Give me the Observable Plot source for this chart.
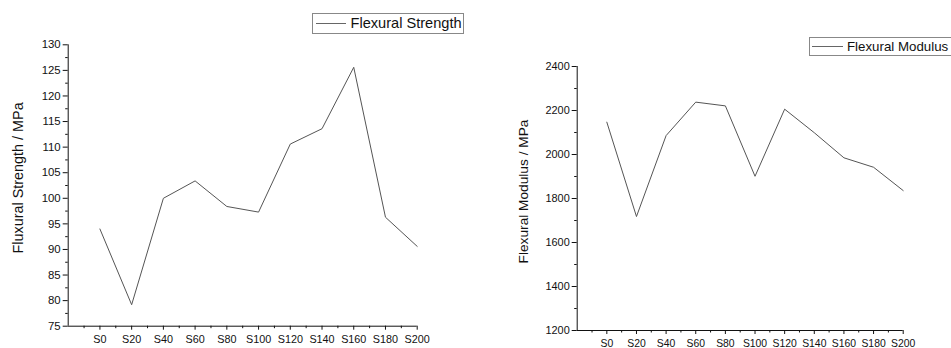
<!DOCTYPE html>
<html><head><meta charset="utf-8">
<script src="https://cdn.jsdelivr.net/npm/d3@7"></script>
<script src="https://cdn.jsdelivr.net/npm/@observablehq/plot@0.6"></script>
<style>
body{margin:0;background:#fff;font-family:"Liberation Sans",Arial,sans-serif;}
#wrap{position:relative;width:951px;height:348px;overflow:hidden;background:#fff;}
.chart{position:absolute;top:0;}
.legend{position:absolute;border:1px solid #888;background:#fff;color:#111;display:flex;align-items:center;box-sizing:border-box;white-space:nowrap;}
.legend .swatch{display:inline-block;height:0;border-top:1px solid #666;}
</style></head>
<body><div id="wrap"></div>
<script>
const samples = ["S0","S20","S40","S60","S80","S100","S120","S140","S160","S180","S200"];
const strength = [94.0, 79.2, 100.0, 103.4, 98.4, 97.3, 110.6, 113.6, 125.6, 96.3, 90.6];
const modulus = [2147, 1718, 2086, 2238, 2221, 1901, 2206, 2099, 1985, 1942, 1836];
const strengthTicks = [75,80,85,90,95,100,105,110,115,120,125,130];
const modulusTicks = [1200,1400,1600,1800,2000,2200,2400];
const strengthTitle = "Fluxural Strength / MPa";
const modulusTitle = "Flexural Modulus / MPa";
const strengthLegend = "Flexural Strength";
const modulusLegend = "Flexural Modulus";

const wrap = document.getElementById("wrap");
const minorX = d3.range(-0.5, 10, 1);

function chart(values, ticks, title, o) {
  const data = values.map((v, i) => ({i, v}));
  const step = ticks[1] - ticks[0];
  const minorY = ticks.slice(0, -1).map(t => t + step / 2);
  const lo = ticks[0], hi = ticks[ticks.length - 1];
  const svg = Plot.plot({
    width: o.width, height: 348,
    marginLeft: o.ml, marginRight: o.mr, marginTop: o.mt, marginBottom: o.mb,
    style: {fontFamily: "Liberation Sans, Arial, sans-serif", color: "#111", background: "transparent"},
    x: {domain: [-1, 10]},
    y: {domain: [lo, hi]},
    marks: [
      Plot.ruleX([-1], {stroke: "#111"}),
      Plot.ruleY([lo], {stroke: "#111"}),
      Plot.axisX(d3.range(0, 11), {tickFormat: i => samples[i], tickSize: 4, tickPadding: 5, label: null, stroke: "#111", fontSize: o.fx}),
      Plot.axisX(minorX, {tickFormat: () => "", tickSize: 2.5, label: null, stroke: "#111"}),
      Plot.axisY(ticks, {tickFormat: d => String(d), tickSize: 5, tickPadding: 2.5, label: null, stroke: "#111", fontSize: o.fy}),
      Plot.axisY(minorY, {tickFormat: () => "", tickSize: 2.5, label: null, stroke: "#111"}),
      Plot.line(data, {x: "i", y: "v", stroke: "#555", strokeWidth: 1}),
      Plot.text([title], {frameAnchor: "left", textAnchor: "middle", rotate: -90, dx: o.tdx, dy: o.tdy, fontSize: o.ft, fill: "#111", lineAnchor: "middle"})
    ]
  });
  svg.classList.add("chart");
  svg.style.left = o.left + "px";
  wrap.appendChild(svg);
}

chart(strength, strengthTicks, strengthTitle, {left: 0, width: 480, ml: 67.7, mr: 63.3, mt: 44.3, mb: 22.3, tdx: -50, tdy: -7.6, fx: 10.8, fy: 11.4, ft: 14.4});
chart(modulus, modulusTicks, modulusTitle, {left: 480, width: 471, ml: 96.7, mr: 48.3, mt: 66, mb: 18, tdx: -53.5, tdy: -7, fx: 10.4, fy: 10.9, ft: 13.7});

function legend(text, o) {
  const d = document.createElement("div");
  d.className = "legend";
  d.style.left = o.x + "px"; d.style.top = o.y + "px";
  d.style.width = o.w + "px"; d.style.height = o.h + "px";
  d.style.fontSize = o.fs + "px";
  const sw = document.createElement("span");
  sw.className = "swatch";
  sw.style.width = o.sw + "px"; sw.style.marginLeft = o.pad + "px"; sw.style.marginRight = o.gap + "px";
  d.appendChild(sw);
  d.appendChild(document.createTextNode(text));
  wrap.appendChild(d);
}
legend(strengthLegend, {x: 311.5, y: 13, w: 152, h: 20.5, sw: 30, pad: 3, gap: 5, fs: 14.6});
legend(modulusLegend, {x: 809, y: 36.5, w: 150, h: 19.5, sw: 31, pad: 2, gap: 4, fs: 13.3});
</script>
</body></html>
